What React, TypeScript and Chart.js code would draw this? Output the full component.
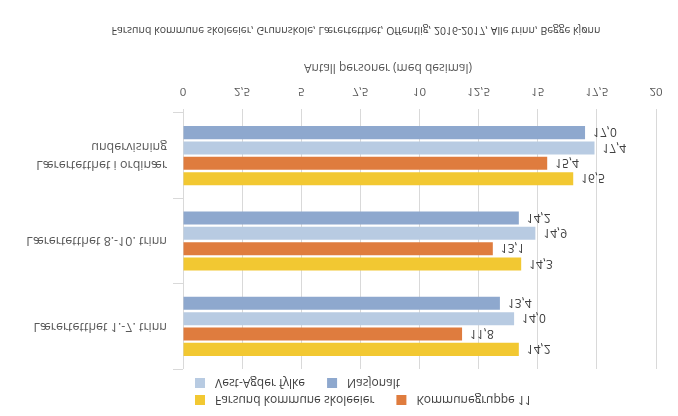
import React, { useEffect, useRef } from "react";
import { Chart, registerables } from "chart.js";

Chart.register(...registerables);

const categories: (string | string[])[] = [
  "Lærertetthet 1.-7. trinn",
  "Lærertetthet 8.-10. trinn",
  ["Lærertetthet i ordinær", "undervisning"],
];
const seriesNames = [
  "Farsund kommune skoleeier",
  "Kommunegruppe 11",
  "Vest-Agder fylke",
  "Nasjonalt",
];
const farsund = [14.2, 14.3, 16.5];
const kommunegruppe = [11.8, 13.1, 15.4];
const vestAgder = [14.0, 14.9, 17.4];
const nasjonalt = [13.4, 14.2, 17.0];
const seriesColors = ["#F2C832", "#DF7C3E", "#B8CBE2", "#8EA8CE"];
const legendRows = [
  [0, 1],
  [2, 3],
];
const chartTitle =
  "Farsund kommune skoleeier, Grunnskole, Lærertetthet, Offentlig, 2016-2017, Alle trinn, Begge kjønn";
const axisTitle = "Antall personer (med desimal)";
const xMin = 0;
const xMax = 20;
const xStep = 2.5;

const FONT = "'Open Sans', 'Noto Sans', sans-serif";
const fmt = (v: number, d?: number) =>
  (d === undefined ? String(v) : v.toFixed(d)).replace(".", ",");

const overlayPlugin = {
  id: "overlay",
  afterDatasetsDraw(chart: any) {
    const ctx: CanvasRenderingContext2D = chart.ctx;
    ctx.save();
    // value labels
    ctx.font = `12px ${FONT}`;
    ctx.fillStyle = "#404040";
    ctx.textBaseline = "middle";
    ctx.textAlign = "left";
    chart.data.datasets.forEach((ds: any, i: number) => {
      const meta = chart.getDatasetMeta(i);
      meta.data.forEach((el: any, j: number) => {
        ctx.fillText(fmt(ds.data[j], 1), el.x + 8, el.y + 1);
      });
    });
    // legend
    const rowY = [16, 33];
    legendRows.forEach((row, r) => {
      let x = 195;
      const y = rowY[r];
      row.forEach((idx) => {
        ctx.fillStyle = seriesColors[idx];
        ctx.fillRect(x, y - 5, 10, 10);
        ctx.fillStyle = "#404040";
        ctx.font = `12px ${FONT}`;
        ctx.textAlign = "left";
        ctx.fillText(seriesNames[idx], x + 20, y + 1);
        x += 20 + ctx.measureText(seriesNames[idx]).width + 22;
      });
    });
    // axis title
    ctx.fillStyle = "#595959";
    ctx.font = `12px ${FONT}`;
    ctx.textAlign = "center";
    ctx.fillText(axisTitle, 388, 349);
    // chart title
    ctx.fillStyle = "#404040";
    ctx.font = `10.5px ${FONT}`;
    ctx.fillText(chartTitle, 356, 386);
    ctx.restore();
  },
};

export default function App() {
  const ref = useRef<HTMLCanvasElement | null>(null);
  useEffect(() => {
    if (!ref.current) return;
    Chart.defaults.font.family = FONT;
    const data = [farsund, kommunegruppe, vestAgder, nasjonalt];
    const chart = new Chart(ref.current, {
      type: "bar",
      data: {
        labels: categories,
        datasets: data.map((d, i) => ({
          label: seriesNames[i],
          data: d,
          backgroundColor: seriesColors[i],
          borderWidth: 0,
          categoryPercentage: 0.72,
          barPercentage: 0.85,
        })),
      },
      options: {
        indexAxis: "y",
        responsive: false,
        animation: false,
        devicePixelRatio: 1,
        layout: { padding: { top: 47, right: 22, bottom: 83, left: 0 } },
        plugins: {
          legend: { display: false },
          title: { display: false },
          tooltip: { enabled: false },
        },
        scales: {
          x: {
            type: "linear",
            position: "bottom",
            min: xMin,
            max: xMax,
            ticks: {
              stepSize: xStep,
              color: "#595959",
              font: { size: 11.5 },
              padding: 11,
              callback: (v: any) => fmt(Number(v)),
            },
            grid: { color: "#D9D9D9", tickLength: 4 },
            border: { display: false },
            afterFit: (s: any) => {
              s.height = 30;
            },
          },
          y: {
            type: "category",
            ticks: {
              color: "#595959",
              font: { size: 12.5, lineHeight: 1.45 },
              padding: 6,
            },
            grid: {
              drawOnChartArea: false,
              color: "#D9D9D9",
              tickLength: 10,
              offset: true,
            },
            border: { display: true, color: "#D9D9D9" },
            afterFit: (s: any) => {
              s.width = 183;
            },
          },
        },
      },
      plugins: [overlayPlugin],
    } as any);
    return () => chart.destroy();
  }, []);
  return (
    <div
      style={{
        position: "fixed",
        left: 0,
        top: 0,
        width: 678,
        height: 416,
        transform: "scaleY(-1)",
        background: "#ffffff",
      }}
    >
      <canvas ref={ref} width={678} height={416} style={{ display: "block" }} />
    </div>
  );
}
